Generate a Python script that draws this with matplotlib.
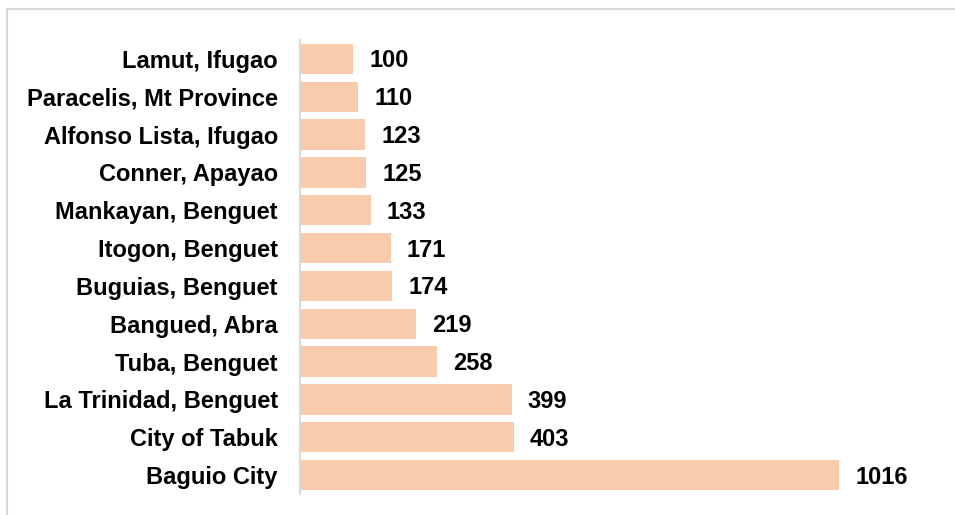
import matplotlib.pyplot as plt
from matplotlib.lines import Line2D

places = ["Baguio City", "City of Tabuk", "La Trinidad, Benguet", "Tuba, Benguet",
          "Bangued, Abra", "Buguias, Benguet", "Itogon, Benguet", "Mankayan, Benguet",
          "Conner, Apayao", "Alfonso Lista, Ifugao", "Paracelis, Mt Province", "Lamut, Ifugao"]
counts = [1016, 403, 399, 258, 219, 174, 171, 133, 125, 123, 110, 100]

plt.rcParams['font.family'] = ['Liberation Sans', 'DejaVu Sans']

fig = plt.figure(figsize=(9.55, 5.15), dpi=100)
ax = fig.add_axes([300 / 955, 21 / 515, 640 / 955, 454 / 515])

bars = ax.barh(range(len(places)), counts, height=0.8, color="#F8CBAD")
ax.set_ylim(-0.5, len(places) - 0.5)
ax.set_xlim(0, 1206)

ax.set_yticks(range(len(places)))
ax.set_yticklabels(places, fontsize=17, fontweight="bold")
ax.tick_params(axis="y", length=0, pad=16)
ax.set_xticks([])

for s in ["top", "right", "bottom"]:
    ax.spines[s].set_visible(False)
ax.spines["left"].set_color("#d9d9d9")
ax.spines["left"].set_linewidth(1.5)

for b, v in zip(bars, counts):
    ax.annotate(str(v), (b.get_width(), b.get_y() + b.get_height() / 2),
                xytext=(16, -2), textcoords="offset pixels",
                va="center", ha="left", fontsize=17, fontweight="bold")

# outer chart border (top and left edges visible)
bx = 7 / 955
by = 1 - 9 / 515
fig.add_artist(Line2D([bx, 1], [by, by], color="#d9d9d9", lw=1.5))
fig.add_artist(Line2D([bx, bx], [0, by], color="#d9d9d9", lw=1.5))

fig.savefig("out.png", dpi=100)
